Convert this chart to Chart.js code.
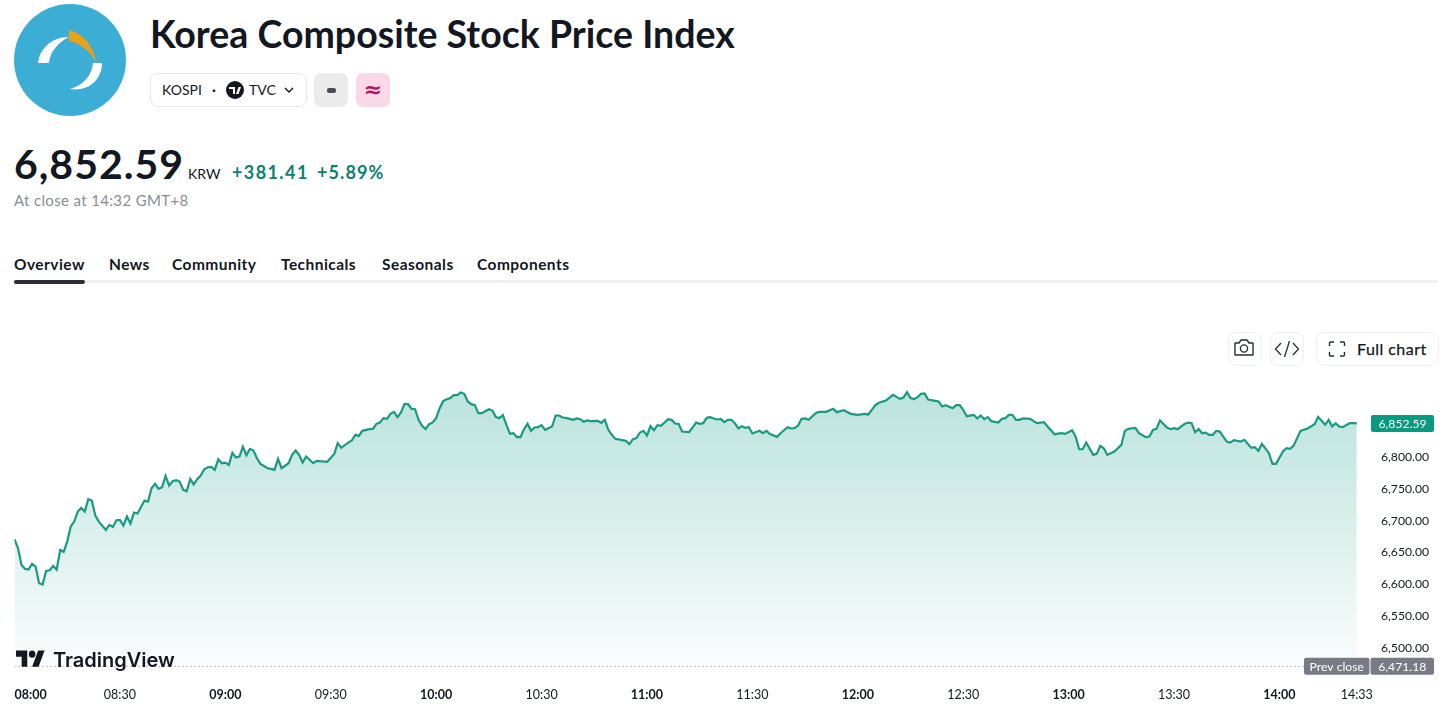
<!DOCTYPE html>
<html>
<head>
<meta charset="utf-8">
<title>KOSPI</title>
<script src="https://cdn.jsdelivr.net/npm/chart.js@4"></script>
<style>
  html, body { margin: 0; padding: 0; background: #fff; }
  body { width: 1440px; height: 710px; position: relative; overflow: hidden; font-family: Lato, sans-serif; color: #131722; }
  .abs { position: absolute; white-space: nowrap; }
  .btn { position: absolute; box-sizing: border-box; border: 1px solid #eef0f4; border-radius: 8px; background: #fff; }
  #chartBox { position: absolute; left: 0; top: 370px; width: 1440px; height: 340px; }
  #title { left: 150px; top: 11px; font-size: 37.5px; font-weight: 700; line-height: 46px; }
  #price { left: 14px; top: 139px; font-size: 41px; font-weight: 700; line-height: 50px; letter-spacing: 1px; }
  .tab { position: absolute; top: 255px; font-size: 15.5px; font-weight: 700; line-height: 18px; letter-spacing: .45px; white-space: nowrap; }
</style>
</head>
<body>
<svg class="abs" style="left:0;top:0" width="140" height="120">
  <circle cx="70" cy="60" r="56" fill="#3cadd4"/>
  <path d="M38 63 C40 48 52 37 69 37 C59 42 50 51 49 63 Z" fill="#fff"/>
  <path d="M102 63 C102 80 88 92 70 89 C84 85 92 75 93 63 Z" fill="#fff"/>
  <path d="M69 30 C84 34 94 46 96 63 C91 52 82 44 69 41 Z" fill="#e8a11a"/>
</svg>
<div id="title" class="abs">Korea Composite Stock Price Index</div>

<div class="btn" style="left:150px;top:73px;width:157px;height:34px;border-color:#e6e8ee"></div>
<div class="abs" style="left:162px;top:81px;font-size:14px;line-height:18px">KOSPI</div>
<div class="abs" style="left:212px;top:81px;font-size:14px;line-height:18px;font-weight:700">·</div>
<svg class="abs" style="left:226px;top:81px" width="18" height="18" viewBox="0 0 18 18">
  <circle cx="9" cy="9" r="9" fill="#131722"/>
  <path d="M3 6h6v7H7V8H3z M10 13l2.5-7H15l-2.5 7z" fill="#fff"/>
</svg>
<div class="abs" style="left:249px;top:81px;font-size:14px;line-height:18px">TVC</div>
<svg class="abs" style="left:283px;top:85px" width="12" height="10" viewBox="0 0 12 10">
  <path d="M2 3l4 4 4-4" fill="none" stroke="#131722" stroke-width="1.4"/>
</svg>
<div class="abs" style="left:314px;top:73px;width:34px;height:34px;border-radius:7px;background:#ebebeb"></div>
<div class="abs" style="left:327px;top:88px;width:9px;height:5px;border-radius:2px;background:#4a4d55"></div>
<div class="abs" style="left:356px;top:73px;width:34px;height:34px;border-radius:7px;background:#fbd8e6"></div>
<div class="abs" style="left:356px;top:73px;width:34px;line-height:34px;text-align:center;font-family:'DejaVu Sans';font-size:22px;font-weight:700;color:#b0175f">≈</div>

<div id="price" class="abs">6,852.59</div>
<div class="abs" style="left:188px;top:165px;font-size:14px;line-height:18px">KRW</div>
<div class="abs" style="left:232px;top:161px;font-size:18px;line-height:22px;font-weight:700;color:#0b8170;letter-spacing:1.4px">+381.41</div>
<div class="abs" style="left:317px;top:161px;font-size:18px;line-height:22px;font-weight:700;color:#0b8170;letter-spacing:1.1px">+5.89%</div>
<div class="abs" style="left:14px;top:191px;font-size:15px;line-height:18px;color:#8a8d96;letter-spacing:.35px">At close at 14:32 GMT+8</div>

<div class="tab" style="left:14px">Overview</div>
<div class="tab" style="left:109px">News</div>
<div class="tab" style="left:172px">Community</div>
<div class="tab" style="left:281px">Technicals</div>
<div class="tab" style="left:382px">Seasonals</div>
<div class="tab" style="left:477px">Components</div>
<div class="abs" style="left:14px;top:280px;width:1424px;height:3px;background:#f0f0f0"></div>
<div class="abs" style="left:14px;top:280px;width:71px;height:4px;border-radius:2px;background:#2a2e39"></div>

<div class="btn" style="left:1228px;top:332px;width:34px;height:34px"></div>
<svg class="abs" style="left:1233px;top:338px" width="22" height="20" viewBox="0 0 22 20">
  <path d="M2 5h4l2-3h6l2 3h4v12H2z" fill="none" stroke="#2a2e39" stroke-width="1.4" stroke-linejoin="round"/>
  <circle cx="11" cy="10.5" r="3.6" fill="none" stroke="#2a2e39" stroke-width="1.4"/>
</svg>
<div class="btn" style="left:1270px;top:332px;width:34px;height:34px"></div>
<svg class="abs" style="left:1274px;top:339px" width="26" height="20" viewBox="0 0 26 20">
  <path d="M7 4L1.5 10 7 16M19 4l5.5 6-5.5 6M15.5 2l-5 16" fill="none" stroke="#2a2e39" stroke-width="1.3"/>
</svg>
<div class="btn" style="left:1316px;top:332px;width:123px;height:34px"></div>
<svg class="abs" style="left:1328px;top:340px" width="18" height="18" viewBox="0 0 18 18">
  <path d="M6 2H2.5A1 1 0 0 0 1.5 3v3M12 2h3.5a1 1 0 0 1 1 1v3M6 16H2.5a1 1 0 0 1-1-1v-3M12 16h3.5a1 1 0 0 0 1-1v-3" fill="none" stroke="#2a2e39" stroke-width="1.4"/>
</svg>
<div class="abs" style="left:1357px;top:339px;font-size:16px;line-height:20px;letter-spacing:.45px;-webkit-text-stroke:.25px #131722">Full chart</div>

<div id="chartBox"><canvas id="kospi"></canvas></div>

<svg class="abs" style="left:16px;top:647px" width="29" height="25" viewBox="0 0 36 28" preserveAspectRatio="none">
  <path d="M14 22H7V11H0V4h14v18zM28 22h-8l7.5-18h8L28 22z" fill="#131722"/>
  <circle cx="20" cy="8" r="4" fill="#131722"/>
</svg>
<div class="abs" style="left:53px;top:647px;font-family:Inter,sans-serif;font-size:20px;line-height:26px;font-weight:600;color:#131722">TradingView</div>

<script>
const bars = [
  0,1,2,3,4,5,6,7,8,9,10,11,12,13,14,15,16,17,18,19,20,21,22,23,24,26,27,28,29,30,31,32,33,34,35,37,38,39,40,41,42,43,44,45,46,47,48,49,
  50,51,52,53,54,55,56,57,58,59,60,61,62,63,64,65,66,67,68,69,70,72,73,74,75,76,78,79,80,81,82,83,85,86,89,91,92,93,95,96,
  97,98,99,101,102,103,104,105,106,107,108,109,110,111,112,113,114,115,116,117,118,119,120,121,122,123,124,125,126,127,128,129,130,131,132,133,135,136,137,138,139,
  140,141,142,143,144,145,146,147,148,149,150,151,153,154,155,156,157,159,160,161,162,163,164,166,167,168,169,170,171,174,175,176,177,178,179,180,181,182,183,184,185,186,187,188,189,190,192,
  194,195,196,197,198,199,200,201,202,203,204,205,206,207,208,209,210,212,213,214,215,217,218,220,221,222,223,224,225,226,228,229,231,233,234,236,238,240,242,243,244,245,246,248,
  250,252,253,254,255,256,257,258,259,260,262,263,264,265,267,268,269,270,271,273,274,275,276,277,278,280,281,282,283,284,285,286,287,289,
  291,293,294,296,298,299,301,302,303,304,305,307,308,309,310,311,313,315,316,317,319,320,322,323,324,325,326,328,329,330,331,333,334,335,336,337,338,339,340,341,342,343,345,346,347,349,
  350,352,353,354,355,357,358,359,361,362,363,364,366,368,370,371,373,374,375,376,377,378,380,381,382
];
const closes = [
  6670.7,6656.5,6630.4,6624.1,6623.0,6631.9,6627.8,6601.6,6599.5,6621.0,6622.0,6628.8,6623.0,6653.9,6650.8,6667.0,6690.6,6698.4,6714.1,6719.9,6714.1,6733.5,6731.4,6707.8,6698.4,6685.3,6693.2,6690.0,6700.5,6701.0,6692.1,6706.3,6695.3,6712.6,6711.0,6731.4,6729.8,6750.8,6757.6,6749.7,6752.4,6770.2,6755.0,6761.8,6763.4,6761.3,6748.2,6746.1,
  6765.5,6756.6,6764.9,6770.7,6780.6,6783.8,6784.3,6779.6,6796.4,6790.1,6791.1,6787.4,6806.3,6799.0,6800.5,6815.7,6802.6,6812.6,6810.0,6797.9,6789.0,6782.2,6781.2,6779.6,6796.9,6782.2,6790.1,6803.2,6810.0,6803.2,6791.1,6800.5,6790.1,6793.7,6792.2,6804.7,6821.5,6814.2,6822.5,6825.7,
  6834.6,6833.0,6840.9,6843.5,6844.0,6851.9,6854.0,6860.8,6859.7,6867.6,6870.7,6862.4,6869.7,6883.3,6882.8,6875.4,6874.9,6858.2,6848.7,6843.5,6851.4,6854.0,6860.8,6876.5,6887.5,6890.6,6892.2,6896.9,6896.9,6901.1,6899.0,6887.0,6882.8,6881.2,6868.6,6868.6,6874.9,6872.8,6862.4,6860.8,6865.5,
  6850.3,6836.2,6837.2,6830.9,6830.9,6843.5,6851.9,6840.9,6846.1,6846.6,6849.8,6842.5,6847.7,6865.0,6865.0,6861.8,6861.3,6858.2,6860.3,6859.2,6855.0,6857.1,6856.1,6856.6,6853.5,6858.2,6842.5,6834.6,6828.3,6825.2,6820.0,6827.8,6829.4,6838.3,6840.9,6833.6,6848.2,6841.9,6849.8,6848.7,6854.0,6859.2,6858.2,6852.4,6851.9,6839.8,6838.8,
  6854.0,6851.9,6852.9,6861.3,6862.4,6860.3,6858.7,6859.7,6854.5,6858.2,6858.2,6852.9,6844.6,6848.2,6845.6,6846.6,6836.7,6840.9,6837.2,6840.9,6835.7,6831.4,6837.2,6846.6,6844.6,6845.1,6849.2,6859.7,6860.3,6858.2,6868.6,6870.7,6870.7,6875.4,6870.2,6873.3,6867.6,6866.0,6867.6,6866.5,6873.9,6881.2,6884.9,6888.5,
  6897.4,6891.1,6893.2,6901.6,6892.2,6890.6,6893.8,6899.0,6899.5,6890.1,6888.0,6887.0,6879.1,6881.2,6876.5,6881.2,6881.2,6873.9,6863.9,6866.0,6860.3,6865.0,6859.2,6862.4,6856.1,6854.0,6859.7,6860.8,6866.0,6866.0,6858.2,6858.2,6860.3,6859.7,
  6852.9,6854.5,6847.6,6835.6,6837.2,6836.1,6841.9,6831.9,6812.0,6812.0,6822.5,6803.1,6804.7,6817.3,6813.6,6803.1,6808.4,6818.8,6840.8,6844.0,6845.6,6837.2,6830.9,6831.9,6842.4,6844.0,6857.1,6846.1,6843.5,6845.0,6843.5,6851.8,6853.9,6852.9,6838.7,6843.5,6837.2,6838.2,6834.6,6834.6,6840.8,6839.8,6824.1,6822.5,6826.2,6824.1,
  6826.7,6814.1,6815.2,6809.4,6820.4,6805.8,6789.0,6789.0,6808.4,6813.6,6812.6,6817.3,6840.8,6844.5,6851.3,6862.8,6850.3,6858.1,6847.6,6852.9,6847.6,6846.6,6852.9,6852.9,6852.59
];

const timeTicks = [0, 30, 60, 90, 120, 150, 180, 210, 240, 270, 300, 330, 360, 382];
const timeLabels = ['08:00','08:30','09:00','09:30','10:00','10:30','11:00','11:30','12:00','12:30','13:00','13:30','14:00','14:33'];
const priceTicks = [6500, 6550, 6600, 6650, 6700, 6750, 6800];
const lastPrice = 6852.59;
const prevClose = 6471.18;

const lineColor = '#1a9a82';
const fontName = 'Lato, sans-serif';

// price tags on the right edge, placed by the price scale
const priceTags = {
  id: 'priceTags',
  afterDatasetsDraw(chart) {
    const c = chart.ctx;
    const y = chart.scales.y;
    const tag = (x, w, value, color, text) => {
      const py = y.getPixelForValue(value);
      c.fillStyle = color;
      c.beginPath();
      c.roundRect(x, py - 8.5, w, 17, 2);
      c.fill();
      c.fillStyle = '#fff';
      c.font = '12.2px ' + fontName;
      c.textAlign = 'center';
      c.textBaseline = 'middle';
      c.fillText(text, x + w / 2, py + 0.5);
    };
    tag(1371, 63, lastPrice, '#089981', '6,852.59');
    tag(1304, 65.5, prevClose, '#787b86', 'Prev close');
    tag(1370.5, 63.5, prevClose, '#787b86', '6,471.18');
  }
};

new Chart(document.getElementById('kospi'), {
  type: 'line',
  data: {
    datasets: [
      {
        data: bars.map((b, i) => ({ x: b, y: closes[i] })),
        borderColor: lineColor,
        borderWidth: 2.2,
        pointRadius: 0,
        tension: 0,
        fill: { value: prevClose },
        backgroundColor(ctx) {
          const area = ctx.chart.chartArea;
          if (!area) return 'transparent';
          const base = ctx.chart.scales.y.getPixelForValue(prevClose);
          const g = ctx.chart.ctx.createLinearGradient(0, area.top, 0, base);
          g.addColorStop(0, 'rgba(8,153,129,0.28)');
          g.addColorStop(1, 'rgba(8,153,129,0.02)');
          return g;
        }
      },
      {
        data: [{ x: 0, y: prevClose }, { x: 382, y: prevClose }],
        borderColor: '#787b86',
        borderWidth: 1,
        borderDash: [1, 3],
        pointRadius: 0,
        fill: false
      }
    ]
  },
  options: {
    responsive: true,
    maintainAspectRatio: false,
    animation: false,
    layout: { padding: { left: 14.5 } },
    plugins: { legend: { display: false }, tooltip: { enabled: false } },
    scales: {
      x: {
        type: 'linear',
        min: 0,
        max: 385.2,
        grid: { display: false, drawTicks: false },
        border: { display: false },
        afterBuildTicks(axis) {
          axis.ticks = timeTicks.map(v => ({ value: v })).concat([{ value: 385.2 }]);
        },
        afterFit(axis) { axis.height = 30; },
        ticks: {
          autoSkip: false,
          maxRotation: 0,
          align: 'inner',
          padding: 7,
          color: '#131722',
          font(ctx) {
            const v = ctx.tick ? ctx.tick.value : 1;
            return { family: fontName, size: 12.5, weight: v % 60 === 0 ? '700' : '400' };
          },
          callback(value) {
            const i = timeTicks.indexOf(value);
            return i < 0 ? '' : timeLabels[i];
          }
        }
      },
      y: {
        position: 'right',
        min: 6449.7,
        max: 6904.5,
        grid: { display: false, drawTicks: false },
        border: { display: false },
        afterBuildTicks(axis) {
          axis.ticks = priceTicks.map(v => ({ value: v }));
        },
        afterFit(axis) { axis.width = 72; },
        ticks: {
          padding: 13,
          color: '#131722',
          font: { family: fontName, size: 12.2 },
          callback(value) {
            return value.toLocaleString('en-US', { minimumFractionDigits: 2 });
          }
        }
      }
    }
  },
  plugins: [priceTags]
});
</script>
</body>
</html>
